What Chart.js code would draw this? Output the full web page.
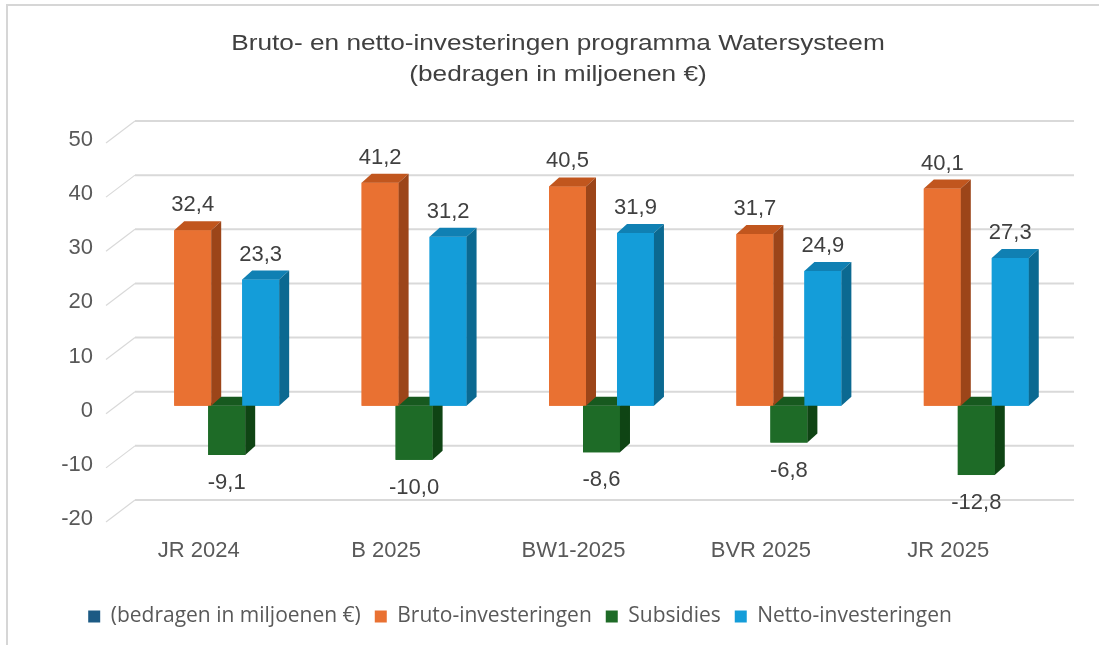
<!DOCTYPE html>
<html>
<head>
<meta charset="utf-8">
<script src="https://cdn.jsdelivr.net/npm/chart.js@4.4.1/dist/chart.umd.min.js"></script>
<style>
  html, body { margin: 0; padding: 0; background: #fff; }
  #wrap { position: relative; width: 1099px; height: 645px; overflow: hidden; }
  #frame { position: absolute; left: 6px; top: 4px; width: 1200px; height: 700px;
           border-left: 2px solid #d6d6d6; border-top: 2px solid #d6d6d6; }
  #chart { position: absolute; left: 0; top: 0; }
</style>
</head>
<body>
<div id="wrap">
  <div id="frame"></div>
  <canvas id="chart" width="1099" height="645"></canvas>
</div>
<script>
const titleLines = ['Bruto- en netto-investeringen programma Watersysteem', '(bedragen in miljoenen €)'];
const categories = ['JR 2024', 'B 2025', 'BW1-2025', 'BVR 2025', 'JR 2025'];
const bruto = [32.4, 41.2, 40.5, 31.7, 40.1];
const subsidies = [-9.1, -10.0, -8.6, -6.8, -12.8];
const netto = [23.3, 31.2, 31.9, 24.9, 27.3];
const yTicks = [-20, -10, 0, 10, 20, 30, 40, 50];

const TEXT = '#595959';
const DEPTH_X = 10;
const DEPTH_Y = -9;

// front, top, side colours per series
const faces = {
  bruto: ['#E97132', '#C1561E', '#9C4519'],
  subsidies: ['#1E6B27', '#17591F', '#0F4414'],
  netto: ['#149DD9', '#1080B3', '#0B6991'],
};

function fmt(v) {
  return v.toFixed(1).replace('.', ',');
}

// title: the original is a slightly stretched picture, so widen the text a bit
const titlePlugin = {
  id: 'stretchedTitle',
  afterDraw(chart) {
    const { ctx } = chart;
    ctx.save();
    ctx.fillStyle = '#404040';
    ctx.font = '21.5px "Liberation Sans", Arial, sans-serif';
    ctx.textAlign = 'center';
    ctx.textBaseline = 'alphabetic';
    ctx.translate(558, 0);
    ctx.scale(1.22, 1);
    ctx.fillText(titleLines[0], 0, 50);
    ctx.fillText(titleLines[1], 0, 81);
    ctx.restore();
  },
};

// back wall grid with the little perspective diagonals on the left
const wallPlugin = {
  id: 'wall',
  beforeDatasetsDraw(chart) {
    const { ctx, chartArea } = chart;
    const y = chart.scales.y;
    ctx.save();
    ctx.strokeStyle = '#d9d9d9';
    yTicks.forEach((v) => {
      const yb = y.getPixelForValue(v) - 14;
      ctx.lineWidth = 2;
      ctx.beginPath();
      ctx.moveTo(chartArea.left + 2, yb);
      ctx.lineTo(chartArea.right + 4, yb);
      ctx.stroke();
      ctx.lineWidth = 1.2;
      ctx.beginPath();
      ctx.moveTo(chartArea.left + 2, yb);
      ctx.lineTo(chartArea.left - 27, yb + 22);
      ctx.stroke();
    });
    ctx.restore();
  },
};

// redraw the bars as boxes, back to front: green, orange, blue
const boxPlugin = {
  id: 'boxes',
  afterDatasetsDraw(chart) {
    const { ctx } = chart;
    const drawOrder = [2, 1, 3];
    const keys = { 1: 'bruto', 2: 'subsidies', 3: 'netto' };
    ctx.save();
    drawOrder.forEach((di) => {
      const meta = chart.getDatasetMeta(di);
      const [front, top, side] = faces[keys[di]];
      meta.data.forEach((bar) => {
        const { x, y, base, width } = bar.getProps(['x', 'y', 'base', 'width'], true);
        const L = x - width / 2;
        const R = x + width / 2;
        const hi = Math.min(y, base);
        const lo = Math.max(y, base);
        ctx.fillStyle = front;
        ctx.fillRect(L, hi, width, lo - hi);
        ctx.fillStyle = top;
        ctx.beginPath();
        ctx.moveTo(L, hi);
        ctx.lineTo(L + DEPTH_X, hi + DEPTH_Y);
        ctx.lineTo(R + DEPTH_X, hi + DEPTH_Y);
        ctx.lineTo(R, hi);
        ctx.closePath();
        ctx.fill();
        ctx.fillStyle = side;
        ctx.beginPath();
        ctx.moveTo(R, hi);
        ctx.lineTo(R + DEPTH_X, hi + DEPTH_Y);
        ctx.lineTo(R + DEPTH_X, lo + DEPTH_Y);
        ctx.lineTo(R, lo);
        ctx.closePath();
        ctx.fill();
      });
    });

    // value labels
    ctx.fillStyle = '#404040';
    ctx.font = '22px "Liberation Sans", Arial, sans-serif';
    ctx.textAlign = 'center';
    ctx.textBaseline = 'middle';
    [1, 2, 3].forEach((di) => {
      const ds = chart.data.datasets[di];
      chart.getDatasetMeta(di).data.forEach((bar, i) => {
        const v = ds.data[i];
        const { x, y } = bar.getProps(['x', 'y'], true);
        const ly = v >= 0 ? y - 25 : y + 28;
        ctx.fillText(fmt(v), x, ly);
      });
    });
    ctx.restore();
  },
};

new Chart(document.getElementById('chart'), {
  type: 'bar',
  data: {
    labels: categories,
    datasets: [
      { type: 'line', label: '(bedragen in miljoenen €)', data: [], backgroundColor: '#1C5A84', borderColor: '#1C5A84', borderWidth: 0 },
      { label: 'Bruto-investeringen', data: bruto, backgroundColor: faces.bruto[0] },
      { label: 'Subsidies', data: subsidies, backgroundColor: faces.subsidies[0] },
      { label: 'Netto-investeringen', data: netto, backgroundColor: faces.netto[0] },
    ],
  },
  options: {
    responsive: false,
    animation: false,
    events: [],
    // negative left padding keeps the legend centred where the original has it
    layout: { padding: { left: -30, right: 29, top: 135, bottom: 8 } },
    datasets: { bar: { categoryPercentage: 0.544, barPercentage: 1.088 } },
    plugins: {
      tooltip: { enabled: false },
      title: { display: false },
      legend: {
        position: 'bottom',
        labels: {
          color: TEXT,
          font: { family: '"Open Sans", sans-serif', size: 21 },
          boxWidth: 12,
          boxHeight: 12,
          padding: 14,
        },
      },
    },
    scales: {
      x: {
        grid: { display: false, drawTicks: false },
        border: { display: false },
        ticks: { color: TEXT, font: { family: '"Liberation Sans", Arial', size: 22 }, padding: 24, labelOffset: -28 },
        afterFit(scale) { scale.height = 78; },
      },
      y: {
        min: -20,
        max: 50,
        grid: { display: false, drawTicks: false },
        border: { display: false },
        ticks: {
          stepSize: 10,
          color: TEXT,
          font: { family: '"Liberation Sans", Arial', size: 22 },
          padding: 40,
          labelOffset: 5,
          callback(value) { return String(value); },
        },
        afterFit(scale) { scale.width = 163; },
      },
    },
  },
  plugins: [wallPlugin, boxPlugin, titlePlugin],
});
</script>
</body>
</html>
